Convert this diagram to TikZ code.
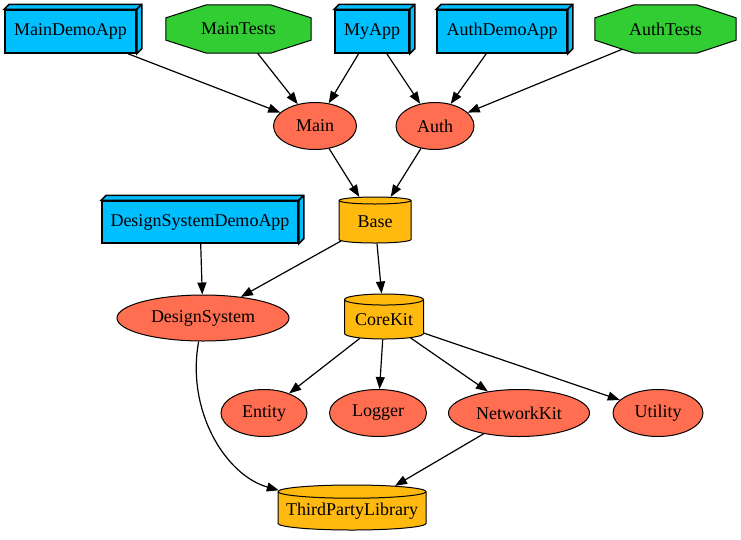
\documentclass[tikz,border=0pt]{standalone}
\usepackage{fontspec}
\setmainfont{Liberation Serif}
\usetikzlibrary{shapes.geometric,arrows.meta,backgrounds,calc}
\definecolor{appblue}{HTML}{00BFFF}
\definecolor{testgreen}{HTML}{32CD32}
\definecolor{modred}{HTML}{FF6E50}
\definecolor{libgold}{HTML}{FFB90F}
\tikzset{
  every node/.style={font=\fontsize{18pt}{20pt}\selectfont, inner sep=0pt},
  app/.style={rectangle, draw, line width=1.5pt, fill=appblue, minimum height=43pt},
  test/.style={rectangle, minimum height=48pt},
  octline/.style={draw, line width=1pt, fill=testgreen},
  mod/.style={ellipse, draw, line width=1pt, fill=modred, minimum height=47pt},
  store/.style={cylinder, shape border rotate=90, draw, line width=1pt, fill=libgold, anchor=shape center},
  edge/.style={line width=1.2pt, -{Triangle[length=12pt,width=9pt]}}
}
\begin{document}
\begin{tikzpicture}[x=1pt,y=-1pt]
\useasboundingbox (0,0) rectangle (741,539);
% top row
\node[app, minimum width=131pt] (mda) at (70.5,31.5) {MainDemoApp};
\node[test, minimum width=145pt] (mt) at (238.5,29) {MainTests};
\node[app, minimum width=74pt] (my) at (372,31.5) {MyApp};
\node[app, minimum width=130pt] (ada) at (502,31.5) {AuthDemoApp};
\node[test, minimum width=141pt] (at) at (665.5,29) {AuthTests};
% second row
\node[mod, minimum width=83pt] (main) at (315,126) {Main};
\node[mod, minimum width=78pt] (auth) at (435,126) {Auth};
% third row
\node[store, aspect=0.2, minimum width=72pt, minimum height=46pt] (base) at (375,220) {Base};
\node[app, minimum width=196pt, minimum height=42pt] (dsda) at (200,222) {DesignSystemDemoApp};
% fourth row
\node[mod, minimum width=172pt, minimum height=46pt] (ds) at (203,318) {DesignSystem};
\node[store, aspect=0.19, minimum width=79pt, minimum height=45pt] (ck) at (384,316.5) {CoreKit};
% fifth row
\node[mod, minimum width=86pt] (ent) at (264,413) {Entity};
\node[mod, minimum width=97pt] (log) at (378,413) {Logger};
\node[mod, minimum width=141pt] (nk) at (519,413) {NetworkKit};
\node[mod, minimum width=90pt] (ut) at (658,413) {Utility};
% bottom
\node[store, aspect=0.1, minimum width=148pt, minimum height=45pt] (tpl) at (352,507.5) {ThirdPartyLibrary};
% octagons
\begin{scope}[on background layer]
\foreach \n in {mt,at}{
  \path[octline]
    ($(\n.north west)!0.28!(\n.north east)$) -- ($(\n.north west)!0.72!(\n.north east)$)
    -- ($(\n.north east)!0.27!(\n.south east)$) -- ($(\n.north east)!0.73!(\n.south east)$)
    -- ($(\n.south west)!0.72!(\n.south east)$) -- ($(\n.south west)!0.28!(\n.south east)$)
    -- ($(\n.north west)!0.73!(\n.south west)$) -- ($(\n.north west)!0.27!(\n.south west)$) -- cycle;
}
\end{scope}
% 3d faces
\foreach \n in {mda,my,ada,dsda}{
  \draw[line width=1.5pt, fill=appblue, line join=miter]
    (\n.north west) -- ++(5,-5) -- ([shift={(5,-5)}]\n.north east)
    -- ([shift={(5,-5)}]\n.south east) -- (\n.south east) -- (\n.north east) -- cycle;
  \draw[line width=1.5pt] (\n.north east) -- ++(5,-5);
}
% edges
\draw[edge] (mda) -- (main);
\draw[edge] (mt) -- (main);
\draw[edge] (my) -- (main);
\draw[edge] (my) -- (auth);
\draw[edge] (ada) -- (auth);
\draw[edge] ($(at.south west)+(27.5,-4)$) -- (auth);
\draw[edge] (main) -- (base);
\draw[edge] (auth) -- (base);
\draw[edge] (dsda) -- (ds);
\draw[edge] (base) -- (ds);
\draw[edge] (base) -- (ck);
\draw[edge] (ck) -- (ent);
\draw[edge] (ck) -- (log);
\draw[edge] (ck) -- (nk);
\draw[edge] (ck) -- (ut);
\draw[edge] (ds) .. controls (186,410) and (225,475) .. (tpl);
\draw[edge] (nk) -- (tpl);
\end{tikzpicture}
\end{document}
